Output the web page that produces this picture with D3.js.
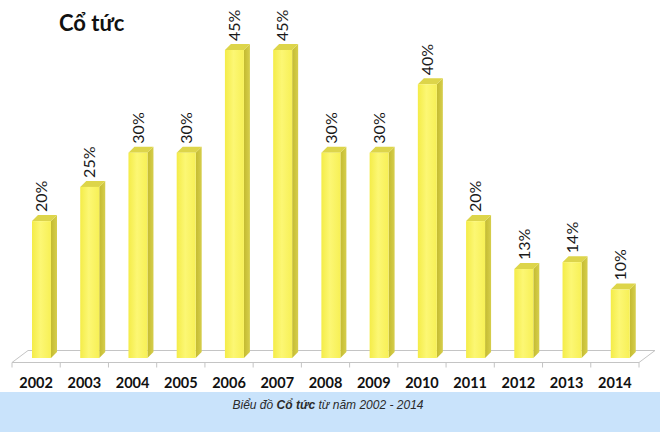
<!DOCTYPE html>
<html>
<head>
<meta charset="utf-8">
<script src="https://cdn.jsdelivr.net/npm/d3@7"></script>
<style>
  html, body { margin: 0; padding: 0; background: #fff; }
  svg { display: block; }
</style>
</head>
<body>
<svg id="svg" width="660" height="432"></svg>
<script>
// --- Data ---
const years     = ['2002', '2003', '2004', '2005', '2006', '2007', '2008',
                   '2009', '2010', '2011', '2012', '2013', '2014'];
const dividends = [20, 25, 30, 30, 45, 45, 30, 30, 40, 20, 13, 14, 10];
const valueMax  = 45;

const W = 660, H = 432;
const svg = d3.select('#svg');

// 3D look: floor depth and bar depth
const floorDX = 16, floorDY = -12;
const barDX = 6, barDY = -6;

const x = d3.scaleBand().domain(years).range([12, 639]).padding(0);
const y = d3.scaleLinear().domain([0, valueMax]).range([358, 50]);
const floorFront = 362.5;

// --- Gradients ---
const defs = svg.append('defs');
const gFront = defs.append('linearGradient').attr('id', 'gFront')
    .attr('x1', 0).attr('x2', 1).attr('y1', 0).attr('y2', 0);
gFront.append('stop').attr('offset', '0%').attr('stop-color', '#f4ec48');
gFront.append('stop').attr('offset', '45%').attr('stop-color', '#fcf774');
gFront.append('stop').attr('offset', '100%').attr('stop-color', '#f7f056');
const gSide = defs.append('linearGradient').attr('id', 'gSide')
    .attr('x1', 0).attr('x2', 1).attr('y1', 0).attr('y2', 0);
gSide.append('stop').attr('offset', '0%').attr('stop-color', '#c4bb30');
gSide.append('stop').attr('offset', '100%').attr('stop-color', '#d6ce4c');

// --- Floor ---
const x0 = x.range()[0], x1 = x.range()[1];
svg.append('path')
    .attr('d', `M${x0},${floorFront} L${x1},${floorFront} L${x1 + floorDX},${floorFront + floorDY} L${x0 + floorDX},${floorFront + floorDY} Z`)
    .attr('fill', '#fff')
    .attr('stroke', '#c4c4c4')
    .attr('stroke-width', 1);

svg.append('g')
    .selectAll('line')
    .data(years.map(d => x(d)).concat([x1]))
    .join('line')
    .attr('x1', d => d).attr('x2', d => d)
    .attr('y1', floorFront).attr('y2', floorFront + 5)
    .attr('stroke', '#c4c4c4');

// --- Bars ---
const frontW = 19, frontOff = 20;
const bars = svg.append('g')
    .selectAll('g.bar')
    .data(years.map((yr, i) => ({ yr, v: dividends[i] })))
    .join('g')
    .attr('class', 'bar');

bars.append('path') // side face
    .attr('d', d => {
        const l = x(d.yr) + frontOff + frontW, t = y(d.v), b = y(0);
        return `M${l},${t} L${l + barDX},${t + barDY} L${l + barDX},${b + barDY} L${l},${b} Z`;
    })
    .attr('fill', 'url(#gSide)');

bars.append('path') // top face
    .attr('d', d => {
        const l = x(d.yr) + frontOff, t = y(d.v);
        return `M${l},${t} L${l + frontW},${t} L${l + frontW + barDX},${t + barDY} L${l + barDX},${t + barDY} Z`;
    })
    .attr('fill', '#ddd54a');

bars.append('rect') // front face
    .attr('x', d => x(d.yr) + frontOff)
    .attr('y', d => y(d.v))
    .attr('width', frontW)
    .attr('height', d => y(0) - y(d.v))
    .attr('fill', 'url(#gFront)');

// --- Value labels ---
bars.append('text')
    .attr('transform', d => `translate(${x(d.yr) + frontOff + frontW / 2},${y(d.v) - 9}) rotate(-90)`)
    .attr('dy', '0.36em')
    .attr('text-anchor', 'start')
    .attr('font-family', 'Lato, sans-serif')
    .attr('font-size', '16px')
    .attr('fill', '#1a1a1a')
    .text(d => d.v + '%');

// --- Year labels ---
svg.append('g')
    .selectAll('text')
    .data(years)
    .join('text')
    .attr('x', d => x(d) + x.bandwidth() / 2)
    .attr('y', 388)
    .attr('text-anchor', 'middle')
    .attr('font-family', 'Lato, sans-serif')
    .attr('font-weight', 'bold')
    .attr('font-size', '14.5px')
    .attr('fill', '#111')
    .text(d => d);

// --- Title ---
svg.append('text')
    .attr('x', 59).attr('y', 31)
    .attr('font-family', 'Lato, sans-serif')
    .attr('font-weight', 'bold')
    .attr('font-size', '22px')
    .attr('fill', '#111')
    .text('Cổ tức');

// --- Footer caption band ---
svg.append('rect')
    .attr('x', 0).attr('y', 392)
    .attr('width', W).attr('height', H - 392)
    .attr('fill', '#c9e3fb');

const cap = svg.append('text')
    .attr('x', 328).attr('y', 409)
    .attr('text-anchor', 'middle')
    .attr('font-family', '"Liberation Sans", Arial, sans-serif')
    .attr('font-style', 'italic')
    .attr('font-size', '12px')
    .attr('fill', '#2a2a2a');
cap.append('tspan').text('Biểu đồ ');
cap.append('tspan').attr('font-weight', 'bold').text('Cổ tức');
cap.append('tspan').text(' từ năm 2002 - 2014');
</script>
</body>
</html>
